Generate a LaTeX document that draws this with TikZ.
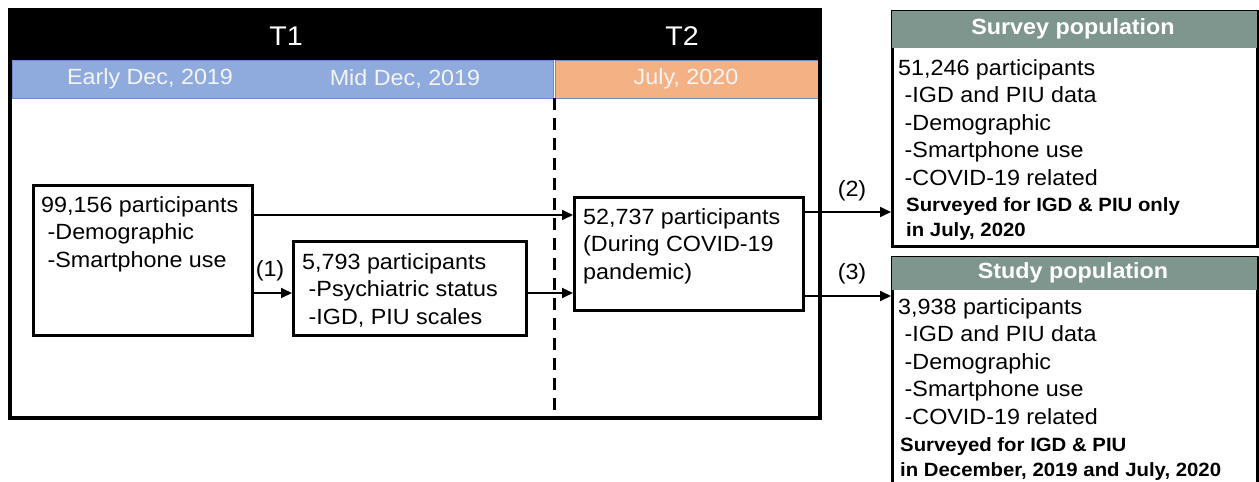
\documentclass[tikz,border=0pt]{standalone}
\usepackage{fontspec}
\setmainfont{Liberation Sans}[FakeStretch=1.06]
\usetikzlibrary{arrows.meta}
\definecolor{bandblue}{RGB}{143,170,220}
\definecolor{bandblueline}{RGB}{110,140,200}
\definecolor{bandorange}{RGB}{244,177,131}
\definecolor{hdrgray}{RGB}{127,150,143}
\definecolor{bandtext}{RGB}{244,244,244}
\begin{document}
\begin{tikzpicture}[x=1pt,y=-1pt,
  box/.style={draw=black,line width=2.5pt,inner sep=0pt,anchor=north west},
  txt/.style={anchor=north west,inner sep=0pt,align=left,font=\fontsize{22}{27.6}\selectfont},
  note/.style={anchor=north west,inner sep=0pt,align=left,font=\fontsize{19.2}{25.5}\selectfont\bfseries},
  lbl/.style={inner sep=0pt,font=\fontsize{22}{27}\selectfont},
  bandlbl/.style={inner sep=0pt,text=bandtext,font=\fontsize{22}{27}\selectfont},
  tlbl/.style={inner sep=0pt,text=white,font=\fontsize{27}{30}\selectfont},
  hdrlbl/.style={inner sep=0pt,text=white,font=\fontsize{22}{27}\selectfont\bfseries},
  arr/.style={line width=1.8pt,-{Triangle[length=11pt,width=10pt]}}]
\useasboundingbox (0,0) rectangle (1259,482);
\clip (0,0) rectangle (1259,482);
% timeline frame
\fill[black] (10,10) rectangle (820,60);
\filldraw[fill=bandblue,draw=bandblueline,line width=0.8pt] (12,60) rectangle (553,98);
\filldraw[fill=bandorange,draw=bandblueline,line width=0.8pt] (555,60) rectangle (818,98);
\node[tlbl] (t1) at (286,36) {T1};
\node[tlbl] (t2) at (682,36) {T2};
\node[bandlbl] (early) at (150,79) {Early Dec, 2019};
\node[bandlbl] (mid) at (405,79) {Mid Dec, 2019};
\node[bandlbl] (july) at (686,79) {July, 2020};
\draw[line width=3pt,dash pattern=on 12pt off 8pt] (554,98) -- (554,416);
\draw[line width=4pt] (10,10) rectangle (820,418);
% boxes
\node[box,minimum width=219pt,minimum height=150pt] (boxA) at (32,184) {};
\node[txt] (textA) at (41,196) {99,156 participants\\\ -Demographic\\\ -Smartphone use};
\node[box,minimum width=233pt,minimum height=94pt] (boxB) at (292,240) {};
\node[txt] (textB) at (302,253) {5,793 participants\\\ -Psychiatric status\\\ -IGD, PIU scales};
\node[box,minimum width=229pt,minimum height=113pt] (boxC) at (573,196) {};
\node[txt] (textC) at (583,208) {52,737 participants\\(During COVID-19\\pandemic)};
% survey population
\node[box,minimum width=365pt,minimum height=235pt] (survey) at (891,10) {};
\fill[hdrgray] ([shift={(1.25pt,-1.25pt)}]survey.north west) rectangle ([shift={(-1.25pt,-38pt)}]survey.north east);
\node[hdrlbl] (surveyhdr) at (1073,29) {Survey population};
\node[txt] (surveytext) at (898,59) {51,246 participants\\\ -IGD and PIU data\\\ -Demographic\\\ -Smartphone use\\\ -COVID-19 related};
\node[note] (surveynote) at (906,197) {Surveyed for IGD \& PIU only\\in July, 2020};
% study population
\node[box,minimum width=365pt,minimum height=260pt] (study) at (891,256) {};
\fill[hdrgray] ([shift={(1.25pt,-1.25pt)}]study.north west) rectangle ([shift={(-1.25pt,-34pt)}]study.north east);
\node[hdrlbl] (studyhdr) at (1073,273) {Study population};
\node[txt] (studytext) at (898,298) {3,938 participants\\\ -IGD and PIU data\\\ -Demographic\\\ -Smartphone use\\\ -COVID-19 related};
\node[note] (studynote) at (900,437) {Surveyed for IGD \& PIU\\in December, 2019 and July, 2020};
% connectors
\coordinate (a1) at ([yshift=-31pt]boxA.north east);
\coordinate (a2) at ([yshift=-109pt]boxA.north east);
\coordinate (b1) at ([yshift=-53pt]boxB.north east);
\coordinate (c1) at ([yshift=-16pt]boxC.north east);
\coordinate (c2) at ([yshift=-100pt]boxC.north east);
\draw[arr] (a1) -- (a1 -| boxC.west);
\draw[arr] (a2) -- (a2 -| boxB.west);
\draw[arr] (b1) -- (b1 -| boxC.west);
\draw[arr] (c1) -- (c1 -| survey.west);
\draw[arr] (c2) -- (c2 -| study.west);
\node[lbl] (l1) at (270,271) {(1)};
\node[lbl] (l2) at (852,191) {(2)};
\node[lbl] (l3) at (852,274) {(3)};
\end{tikzpicture}
\end{document}
